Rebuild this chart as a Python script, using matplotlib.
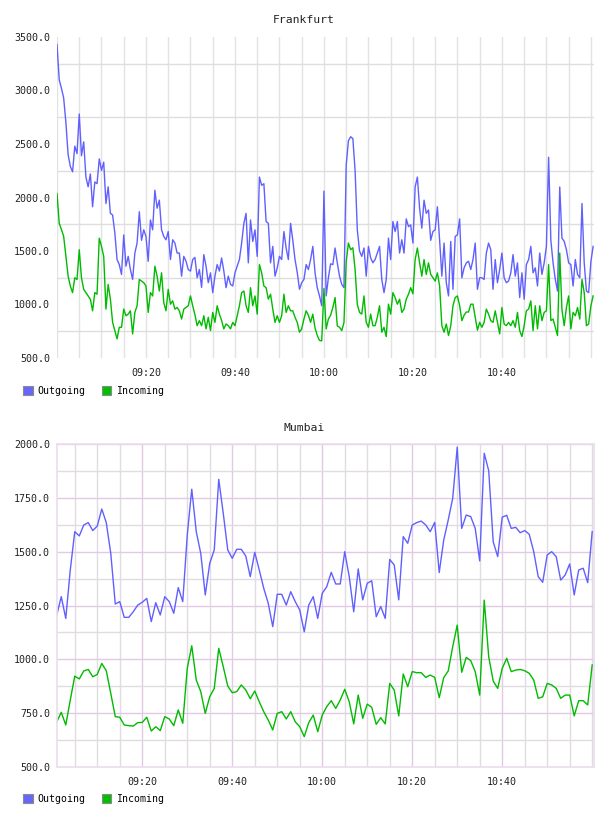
import numpy as np
import matplotlib.pyplot as plt
from matplotlib.ticker import FixedLocator, FuncFormatter, MultipleLocator
from matplotlib.patches import Patch

plt.rcParams['font.family'] = ['DejaVu Sans Mono']

# Frankfurt: 30 s samples from 09:00
fra_out = [3430, 3100, 3020, 2930, 2700, 2400, 2290, 2240, 2480, 2410,
           2780, 2390, 2520, 2190, 2100, 2220, 1913, 2145, 2130, 2361,
           2253, 2330, 1944, 2100, 1852, 1836, 1670, 1420, 1373, 1281,
           1650, 1358, 1450, 1327, 1234, 1481, 1574, 1867, 1600, 1698,
           1636, 1404, 1790, 1698, 2068, 1900, 1975, 1698, 1636, 1605,
           1682, 1420, 1605, 1574, 1481, 1481, 1265, 1450, 1404, 1327, 1312,
           1420, 1440, 1250, 1327, 1160, 1466, 1358, 1204, 1296, 1111,
           1265, 1373, 1312, 1435, 1312, 1157, 1265, 1188, 1173, 1296,
           1358, 1420, 1574, 1759, 1852, 1389, 1790, 1589, 1698, 1450,
           2191, 2114, 2129, 1775, 1759, 1389, 1543, 1265, 1342, 1450,
           1420, 1682, 1528, 1420, 1759, 1600, 1420, 1300, 1142, 1204,
           1234, 1373, 1327, 1420, 1543, 1296, 1157, 1080, 988, 2060,
           1080, 1250, 1380, 1373, 1528, 1389, 1265, 1188, 1157, 2300,
           2530, 2568, 2550, 2253, 1698, 1500, 1450, 1528, 1265, 1543,
           1435, 1390, 1420, 1481, 1543, 1234, 1111, 1234, 1620, 1420,
           1775, 1682, 1775, 1481, 1605, 1480, 1800, 1728, 1744, 1574,
           2100, 2191, 1900, 1713, 1975, 1852, 1883, 1600, 1682, 1698,
           1913, 1600, 1265, 1574, 1204, 1080, 1589, 1142, 1636, 1651,
           1800, 1250, 1342, 1389, 1404, 1327, 1420, 1574, 1142, 1250,
           1250, 1234, 1481, 1574, 1512, 1142, 1420, 1204, 1327, 1481,
           1250, 1204, 1219, 1296, 1466, 1265, 1389, 1065, 1296, 1049,
           1373, 1420, 1543, 1296, 1342, 1173, 1481, 1281, 1389, 1543,
           2376, 1600, 1389, 1234, 1126, 2098, 1620, 1590, 1512, 1389,
           1373, 1173, 1420, 1281, 1250, 1944, 1389, 1126, 1111, 1400, 1543]
fra_in = [2037, 1759, 1700, 1636, 1450, 1265, 1173, 1111, 1250, 1234,
          1512, 1250, 1142, 1111, 1080, 1049, 941, 1111, 1096, 1620,
          1543, 1450, 957, 1188, 1049, 833, 756, 679, 787, 787,
          957, 895, 910, 941, 725, 926, 988, 1234, 1219, 1204,
          1173, 926, 1111, 1080, 1358, 1265, 1126, 1296, 1018, 941,
          1142, 1003, 1034, 957, 972, 941, 864, 957, 972, 988, 1080,
          988, 905, 802, 849, 802, 895, 772, 880, 756, 926,
          833, 988, 910, 850, 772, 818, 802, 772, 833, 802,
          895, 988, 1111, 1126, 988, 926, 1157, 988, 1080, 910,
          1373, 1296, 1173, 1157, 1050, 1096, 957, 833, 895, 833,
          895, 1096, 926, 988, 941, 941, 880, 833, 741, 772,
          864, 941, 900, 833, 910, 780, 710, 664, 660, 1150,
          772, 864, 900, 972, 1065, 800, 787, 756, 830, 1400,
          1574, 1512, 1530, 1327, 1000, 926, 910, 1080, 833, 787,
          910, 802, 802, 880, 988, 741, 787, 700, 1003, 910,
          1111, 1065, 1003, 1049, 926, 957, 1049, 1096, 1157, 1100,
          1420, 1528, 1389, 1265, 1420, 1281, 1389, 1281, 1250, 1219,
          1296, 1173, 802, 741, 818, 710, 800, 988, 1065, 1080,
          990, 849, 900, 930, 930, 1003, 1003, 880, 760, 833,
          787, 833, 957, 910, 849, 833, 941, 833, 725, 972,
          818, 802, 833, 802, 849, 787, 926, 756, 700, 802,
          941, 957, 1034, 756, 988, 772, 988, 849, 926, 941,
          1373, 850, 864, 787, 710, 1481, 950, 802, 972, 1080,
          772, 926, 895, 972, 864, 1234, 1111, 802, 818, 988, 1080]

# Mumbai: 1 min samples from 09:01
mum_out = [1206, 1291, 1190, 1415, 1593, 1573, 1624, 1635, 1598, 1619,
           1698, 1635, 1492, 1257, 1268, 1195, 1195, 1221, 1252, 1265,
           1283, 1175, 1263, 1206, 1291, 1268, 1214, 1333, 1268, 1577,
           1790, 1593, 1492, 1299, 1446, 1508, 1836, 1678, 1508, 1469,
           1511, 1511, 1480, 1384, 1497, 1415, 1330, 1260, 1152, 1302,
           1302, 1252, 1314, 1268, 1229, 1128, 1252, 1291, 1190, 1307,
           1337, 1404, 1350, 1350, 1500, 1384, 1221, 1420, 1276, 1353,
           1365, 1198, 1245, 1190, 1464, 1438, 1276, 1570, 1539, 1624,
           1635, 1642, 1624, 1593, 1636, 1403, 1554, 1647, 1748, 1985,
           1608, 1670, 1663, 1608, 1457, 1957, 1876, 1546, 1477, 1660,
           1669, 1608, 1613, 1588, 1598, 1581, 1500, 1384, 1358, 1485,
           1500, 1477, 1368, 1392, 1443, 1299, 1415, 1423, 1356, 1593]
mum_in = [710, 754, 695, 811, 922, 909, 946, 953, 919, 930,
          981, 947, 842, 734, 731, 695, 692, 690, 706, 707,
          731, 667, 687, 669, 734, 723, 692, 765, 703, 958,
          1063, 904, 850, 749, 827, 865, 1051, 966, 876, 845,
          850, 881, 858, 817, 853, 803, 757, 718, 672, 749,
          757, 723, 757, 710, 687, 641, 706, 741, 664, 741,
          780, 808, 772, 811, 861, 803, 700, 834, 726, 792,
          777, 698, 729, 700, 888, 857, 737, 932, 873, 943,
          938, 938, 916, 927, 916, 822, 915, 946, 1059, 1159,
          940, 1009, 994, 943, 834, 1275, 1012, 899, 865, 958,
          1005, 943, 950, 953, 947, 935, 904, 819, 826, 888,
          881, 865, 819, 834, 834, 737, 808, 808, 788, 974]

# minutes of the day
t_fra = 540 + 0.5 * np.arange(len(fra_out))
t_mum = 541 + np.arange(len(mum_out))
time_ticks = [560, 580, 600, 620, 640]

BLUE = '#6060ff'
GREEN = '#00bb00'


def hhmm(x, pos):
    m = int(round(x))
    return f'{m // 60:02d}:{m % 60:02d}'


W, H = 608, 816
def box(l, t, r, b):
    return [l / W, 1 - b / H, (r - l) / W, (b - t) / H]


fig = plt.figure(figsize=(6.08, 8.16), dpi=100)

# --- Frankfurt ---
ax1 = fig.add_axes(box(57, 37, 594, 358))
ax1.plot(t_fra, fra_out, color=BLUE, lw=1.0)
ax1.plot(t_fra, fra_in, color=GREEN, lw=1.0)
ax1.set_xlim(540, 660.7)
ax1.set_ylim(500, 3500)
ax1.yaxis.set_major_locator(MultipleLocator(500))
ax1.yaxis.set_minor_locator(FixedLocator(np.arange(750, 3500, 500)))
ax1.yaxis.set_major_formatter(FuncFormatter(lambda v, p: f'{v:.1f}'))
ax1.xaxis.set_major_locator(FixedLocator(time_ticks))
ax1.xaxis.set_minor_locator(MultipleLocator(5))
ax1.xaxis.set_major_formatter(FuncFormatter(hhmm))
ax1.grid(which='both', axis='x', color='#e2e2e2', lw=1.0)
ax1.grid(which='minor', axis='y', color='#dedede', lw=1.0)
ax1.set_axisbelow(True)
for s in ax1.spines.values():
    s.set_visible(False)
ax1.tick_params(which='both', length=0, labelsize=7.2, colors='#222222')
ax1.tick_params(axis='x', pad=7)
ax1.tick_params(axis='y', pad=5)
fig.text(304 / W, 1 - 20 / H, 'Frankfurt', ha='center', va='center', fontsize=8.2, color='#222222')

# --- Mumbai ---
ax2 = fig.add_axes(box(57, 444, 594, 767))
ax2.plot(t_mum, mum_out, color=BLUE, lw=1.0)
ax2.plot(t_mum, mum_in, color=GREEN, lw=1.0)
ax2.set_xlim(541.05, 660.4)
ax2.set_ylim(500, 2000)
ax2.yaxis.set_major_locator(MultipleLocator(250))
ax2.yaxis.set_minor_locator(MultipleLocator(125))
ax2.yaxis.set_major_formatter(FuncFormatter(lambda v, p: f'{v:.1f}'))
ax2.xaxis.set_major_locator(FixedLocator(time_ticks))
ax2.xaxis.set_minor_locator(MultipleLocator(5))
ax2.xaxis.set_major_formatter(FuncFormatter(hhmm))
ax2.grid(which='minor', color='#e2dce2', lw=1.0)
ax2.grid(which='major', color='#e3c9e6', lw=1.0)
ax2.set_axisbelow(True)
for s in ax2.spines.values():
    s.set_color('#eedcef')
    s.set_linewidth(1.2)
ax2.tick_params(which='both', length=0, labelsize=7.2, colors='#222222')
ax2.tick_params(axis='x', pad=7)
ax2.tick_params(axis='y', pad=5)
fig.text(304 / W, 1 - 428 / H, 'Mumbai', ha='center', va='center', fontsize=8.2, color='#222222')

# legends
handles = [Patch(facecolor='#6666ff', edgecolor='#8a8a8a', lw=0.8),
           Patch(facecolor='#00c000', edgecolor='#8a8a8a', lw=0.8)]
for y in (386, 794):
    fig.legend(handles, ['Outgoing', 'Incoming'], loc='upper left',
               bbox_to_anchor=(23 / W, 1 - y / H), ncol=2, frameon=False,
               fontsize=7.1, handlelength=1.0, handleheight=1.0,
               handletextpad=0.5, columnspacing=1.6, borderpad=0, borderaxespad=0)

fig.savefig('out.png', dpi=100)
